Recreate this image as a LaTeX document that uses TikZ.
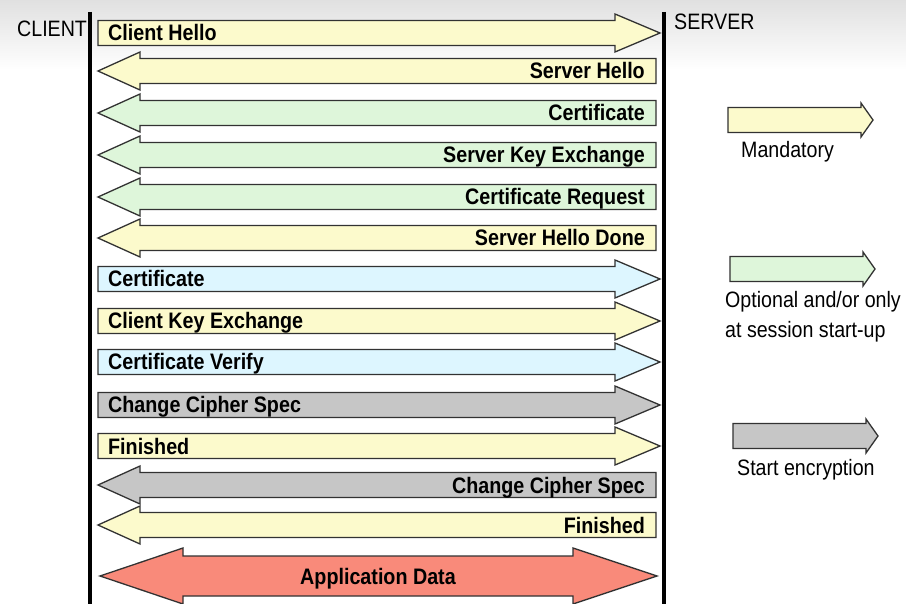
\documentclass[tikz,border=0pt]{standalone}
\usepackage{fontspec}
\setmainfont{Liberation Sans}[FakeStretch=0.88]

\definecolor{msgyellow}{RGB}{252,250,204}
\definecolor{msggreen}{RGB}{222,246,218}
\definecolor{msgblue}{RGB}{221,246,255}
\definecolor{msggray}{RGB}{198,198,198}
\definecolor{msgred}{RGB}{249,138,122}
\definecolor{msgline}{RGB}{50,50,50}

% message arrows: y, fill, node name, label
\newcommand{\msgright}[4]{%
  \draw [msg, fill=#2] (98,#1-12.5) -- (615,#1-12.5) -- (615,#1-19) -- (660,#1)
    -- (615,#1+19) -- (615,#1+12.5) -- (98,#1+12.5) -- cycle;
  \node [lbl, anchor=west] (#3) at (108,#1) {#4};}
\newcommand{\msgleft}[4]{%
  \draw [msg, fill=#2] (656,#1-12.5) -- (140,#1-12.5) -- (140,#1-19) -- (98,#1)
    -- (140,#1+19) -- (140,#1+12.5) -- (656,#1+12.5) -- cycle;
  \node [lbl, anchor=east] (#3) at (645,#1) {#4};}
% legend arrow: y, left end, fill
\newcommand{\legarrow}[3]{%
  \draw [msg, fill=#3] (#2,#1-12.5) -- (#2+133,#1-12.5) -- (#2+133,#1-17) -- (#2+145,#1)
    -- (#2+133,#1+17) -- (#2+133,#1+12.5) -- (#2,#1+12.5) -- cycle;}

\begin{document}
\begin{tikzpicture}[x=1pt, y=-1pt,
  msg/.style={draw=msgline, line width=1.3pt, line join=miter},
  lbl/.style={inner sep=0pt, text height=16pt, text depth=0pt, font=\fontsize{22.4}{24}\selectfont\bfseries},
  leg/.style={inner sep=0pt, text height=16pt, text depth=0pt, anchor=west, font=\fontsize{22.3}{24}\selectfont}]

\useasboundingbox (0,0) rectangle (906,604);
\fill [white] (0,0) rectangle (906,604);
\shade [top color=black!12, bottom color=white] (0,0) rectangle (906,70);

\coordinate (cltop) at (90,12);
\coordinate (clbot) at (90,604);
\coordinate (svtop) at (664,12);
\coordinate (svbot) at (664,604);
\draw [line width=4pt] (cltop) -- (clbot);
\draw [line width=4pt] (svtop) -- (svbot);

\node [leg] (client) at (17,29) {CLIENT};
\node [leg] (server) at (674,22) {SERVER};

\msgright{33}{msgyellow}{chello}{Client Hello}
\msgleft{71}{msgyellow}{shello}{Server Hello}
\msgleft{113}{msggreen}{scert}{Certificate}
\msgleft{155}{msggreen}{skex}{Server Key Exchange}
\msgleft{197}{msggreen}{certreq}{Certificate Request}
\msgleft{238}{msgyellow}{shdone}{Server Hello Done}
\msgright{279}{msgblue}{ccert}{Certificate}
\msgright{321}{msgyellow}{ckex}{Client Key Exchange}
\msgright{362}{msgblue}{cverify}{Certificate Verify}
\msgright{405}{msggray}{cccs}{Change Cipher Spec}
\msgright{446}{msgyellow}{cfin}{Finished}
\msgleft{485}{msggray}{sccs}{Change Cipher Spec}
\msgleft{525}{msgyellow}{sfin}{Finished}

% application data, both ways
\draw [msg, fill=msgred] (100,576) -- (183,548) -- (183,556) -- (573,556) -- (573,548)
  -- (657,576) -- (573,604) -- (573,596) -- (183,596) -- (183,604) -- cycle;
\node [lbl] (appdata) at (378,576) {Application Data};

% legend
\legarrow{120}{728}{msgyellow}
\node [leg] (mand) at (741,150) {Mandatory};
\legarrow{269}{730}{msggreen}
\node [leg] (opt) at (725,300) {Optional and/or only};
\node [leg] (optb) at (725,330) {at session start-up};
\legarrow{436}{733}{msggray}
\node [leg] (enc) at (737,467) {Start encryption};
\end{tikzpicture}
\end{document}
